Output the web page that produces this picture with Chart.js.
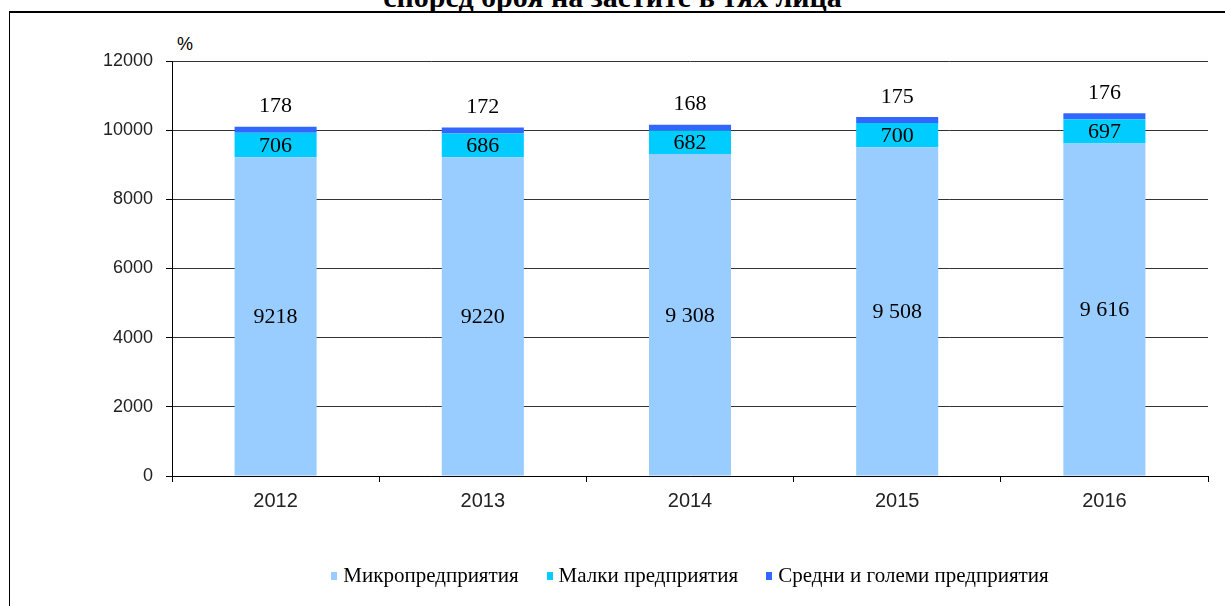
<!DOCTYPE html>
<html>
<head>
<meta charset="utf-8">
<script src="https://cdn.jsdelivr.net/npm/chart.js@4.4.0/dist/chart.umd.min.js"></script>
<style>
  html, body { margin: 0; padding: 0; background: #fff; overflow: hidden; }
  #wrap { position: relative; width: 1225px; height: 606px; overflow: hidden; }
  #frame { position: absolute; left: 9px; top: 11px; width: 1400px; height: 800px;
           border-left: 1px solid #000; border-top: 2px solid #000; }
  #title { position: absolute; left: 0; top: -18px; width: 1225px; text-align: center;
           font: bold 30px "Liberation Serif", serif; line-height: 30px; color: #000; }
  #unit { position: absolute; left: 177px; top: 35px; font: 18px "Liberation Sans", Arial, sans-serif;
          line-height: 18px; color: #000; }
  #chart { position: absolute; left: 0; top: 0; }
  #legend { position: absolute; left: 172px; width: 1036px; top: 564px; display: flex;
            justify-content: center; font: 21px "Liberation Serif", serif; color: #000; }
  .item { display: flex; align-items: center; margin: 0 14px; line-height: 22px; }
  .box { width: 6px; height: 8px; margin-right: 6px; margin-top: 1px; }
</style>
</head>
<body>
<div id="wrap">
  <div id="frame"></div>
  <div id="title">според броя на заетите в тях лица</div>
  <div id="unit">%</div>
  <canvas id="chart" width="1225" height="606"></canvas>
  <div id="legend"></div>
</div>
<script>
const years = ['2012', '2013', '2014', '2015', '2016'];
const microValues = [9218, 9220, 9308, 9508, 9616];
const smallValues = [706, 686, 682, 700, 697];
const mediumValues = [178, 172, 168, 175, 176];
const microLabels = ['9218', '9220', '9 308', '9 508', '9 616'];
const smallLabels = ['706', '686', '682', '700', '697'];
const mediumLabels = ['178', '172', '168', '175', '176'];
const yTicks = [0, 2000, 4000, 6000, 8000, 10000, 12000];
const seriesNames = ['Микропредприятия', 'Малки предприятия', 'Средни и големи предприятия'];
const seriesColors = ['#99CCFF', '#00CCFF', '#3366FF'];

const seriesValues = [microValues, smallValues, mediumValues];
const seriesLabels = [microLabels, smallLabels, mediumLabels];

// text on the bars: first two inside, the last one above the stack
const valueLabels = {
  id: 'valueLabels',
  afterDatasetsDraw(chart) {
    const ctx = chart.ctx;
    ctx.save();
    ctx.font = '22px "Liberation Serif"';
    ctx.fillStyle = '#000';
    ctx.textAlign = 'center';
    ctx.textBaseline = 'middle';
    chart.data.datasets.forEach((ds, i) => {
      chart.getDatasetMeta(i).data.forEach((bar, j) => {
        const y = i === 2 ? bar.y - 20 : (bar.y + bar.base) / 2 + 1;
        ctx.fillText(seriesLabels[i][j], bar.x, y);
      });
    });
    ctx.restore();
  }
};

const ctx = document.getElementById('chart').getContext('2d');
const chart = new Chart(ctx, {
  type: 'bar',
  data: {
    labels: years,
    datasets: seriesNames.map((name, i) => ({
      label: name,
      data: seriesValues[i],
      backgroundColor: seriesColors[i],
      borderWidth: 0,
      barPercentage: 0.396,
      categoryPercentage: 1
    }))
  },
  options: {
    responsive: false,
    animation: false,
    layout: { padding: { top: 61, right: 17, bottom: 90, left: 0 } },
    plugins: { legend: { display: false }, tooltip: { enabled: false } },
    scales: {
      x: {
        stacked: true,
        grid: { display: true, drawOnChartArea: false, drawTicks: true, tickLength: 6, color: '#000', lineWidth: 1 },
        border: { display: true, color: '#000', width: 1 },
        ticks: { color: '#222', font: { family: 'Liberation Sans', size: 20 }, padding: 7 },
        afterFit: s => { s.height = 40; }
      },
      y: {
        stacked: true,
        min: 0,
        max: 12000,
        afterBuildTicks: s => { s.ticks = yTicks.map(v => ({ value: v })); },
        grid: { color: '#333', lineWidth: 1, tickLength: 6, tickColor: '#000' },
        border: { display: true, color: '#000', width: 1 },
        ticks: { color: '#222', font: { family: 'Liberation Sans', size: 18 }, padding: 13,
                 callback: v => String(v) },
        afterFit: s => { s.width = 172; }
      }
    }
  },
  plugins: [valueLabels]
});

const legend = document.getElementById('legend');
seriesNames.forEach((name, i) => {
  const item = document.createElement('div');
  item.className = 'item';
  const box = document.createElement('span');
  box.className = 'box';
  box.style.background = seriesColors[i];
  const text = document.createElement('span');
  text.textContent = name;
  item.appendChild(box);
  item.appendChild(text);
  legend.appendChild(item);
});
</script>
</body>
</html>
